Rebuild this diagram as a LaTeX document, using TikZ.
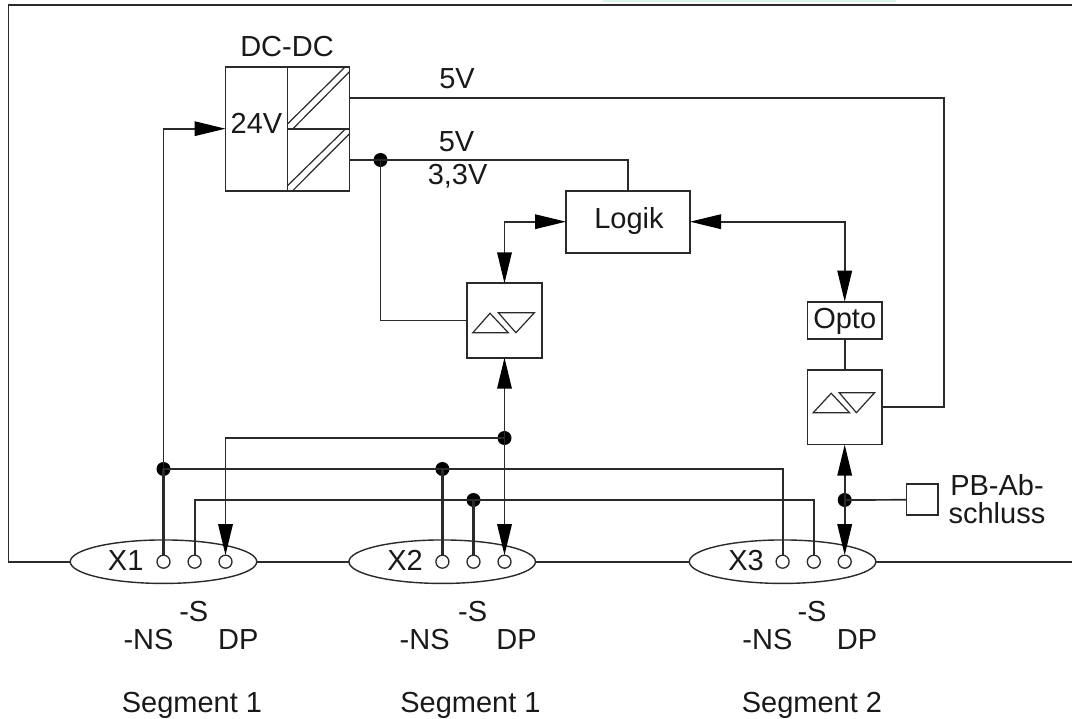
\documentclass[tikz,border=0pt]{standalone}
\usepackage{fontspec}
\setmainfont{Liberation Sans}
\usetikzlibrary{arrows.meta,shapes.geometric,calc}
\definecolor{ink}{HTML}{2A2A2A}
\definecolor{mint}{HTML}{D9F5E8}
\tikzset{
  >={Triangle[length=31pt,width=14.5pt,black]},
  wire/.style={draw=ink,line width=1.7pt},
  bus/.style={draw=ink,line width=2.2pt},
  thin wire/.style={draw=ink,line width=1.2pt},
  boxn/.style={draw=ink,line width=1.7pt,fill=white,rectangle,inner sep=0pt,outer sep=0pt},
  lbl/.style={anchor=base,inner sep=0pt,outer sep=0pt,text=black!90,font=\fontsize{29}{30}\selectfont},
  dotn/.style={circle,fill=black,inner sep=0pt,outer sep=0pt,minimum size=14pt},
  pin/.style={circle,draw=ink,line width=1.3pt,fill=white,inner sep=0pt,outer sep=0pt,minimum size=13pt},
  plug/.style={ellipse,draw=ink,line width=1.4pt,fill=white,inner sep=0pt,outer sep=0pt,minimum width=186.5pt,minimum height=43.5pt},
  tri/.style={draw=ink,line width=1.2pt,line join=miter},
}
\begin{document}
\begin{tikzpicture}[x=1pt,y=-1pt]
\useasboundingbox (0,0) rectangle (1072,719);
\fill[mint] (603,0) rectangle (895.6,2);

% frame and plugs
\coordinate (frameR) at (1072,561.7);
\coordinate (frameTL) at (8.6,5);
\coordinate (frameTR) at (1072,5);
\coordinate (frameBL) at (8.6,561.7);
\draw[wire] (frameTR) -- (frameTL) -- (frameBL) -- (frameR);

\node[plug] (x1) at (163.5,561.7) {};
\node[plug] (x2) at (442.2,561.7) {};
\node[plug] (x3) at (782.6,561.7) {};

\node[pin] (x1a) at (163.5,561.7) {};
\node[pin] (x1b) at (194.6,561.7) {};
\node[pin] (x1c) at (225.5,561.7) {};
\node[pin] (x2a) at (442.4,561.7) {};
\node[pin] (x2b) at (473.5,561.7) {};
\node[pin] (x2c) at (504.5,561.7) {};
\node[pin] (x3a) at (782.6,561.7) {};
\node[pin] (x3b) at (813.8,561.7) {};
\node[pin] (x3c) at (844.7,561.7) {};

% boxes
\node[boxn,minimum width=124pt,minimum height=124pt] (dc) at (287.5,128.7) {};
\node[boxn,minimum width=124pt,minimum height=62pt] (logik) at (628,221.7) {};
\node[boxn,minimum width=75pt,minimum height=74.4pt] (drvA) at (504.5,320.5) {};
\node[boxn,minimum width=74.6pt,minimum height=74.7pt] (drvB) at (844.7,407.3) {};
\node[boxn,minimum width=74.6pt,minimum height=37.6pt] (opto) at (844.7,320.5) {};
\node[boxn,minimum width=31.2pt,minimum height=31pt] (term) at (922.1,499.8) {};

% DC-DC internals
\draw[wire] (dc.north) -- (dc.south);
\draw[wire] (dc.center) -- (dc.east);
\draw[thin wire] (287.5,124) -- (345.4,66.7);
\draw[thin wire] (292.7,129) -- (349.5,71.7);
\draw[thin wire] (287.5,185.7) -- (345.4,129);
\draw[thin wire] (292.7,190.7) -- (349.5,133.7);

% driver triangles
\draw[tri] (472.8,332.7) -- (490,313.3) -- (508.3,332.7) -- cycle;
\draw[tri] (498.3,312.7) -- (534.4,312.7) -- (515.9,332.7) -- cycle;
\draw[tri] (813.2,412.7) -- (831.2,393.3) -- (849.5,412.7) -- cycle;
\draw[tri] (839.2,392.7) -- (874.6,392.7) -- (856.4,412.7) -- cycle;

% junctions
\node[dotn] (jp) at (380.5,160) {};
\node[dotn] (jns) at (163.5,469) {};
\node[dotn] (jns2) at (442.4,469) {};
\node[dotn] (js2) at (473.5,500) {};
\node[dotn] (jdp) at (504.5,438) {};
\node[dotn] (jdp2) at (844.7,500) {};
\coordinate (dcoutA) at (349.5,98.3);
\coordinate (dcoutB) at (349.5,160);
\coordinate (cornA) at (943.8,98.3);
\coordinate (dcin) at (163.5,128.7);
\coordinate (cornB) at (504.5,221.7);
\coordinate (cornC) at (844.7,221.7);

% power
\draw[wire] (dcoutA) -- (cornA) -- (cornA |- drvB.east) -- (drvB.east);
\draw[wire] (dcoutB) -- (jp.center) -| (logik.north);
\draw[wire] (jp.center) |- (drvA.west);
\draw[wire] (drvB.north) -- (opto.south);

% signals with arrowheads
\draw[wire,->] (x1a.north) -- (dcin) -- (dc.west);
\draw[wire,<->] (drvA.north) -- (cornB) -- (logik.west);
\draw[wire,<->] (logik.east) -- (cornC) -- (opto.north);
\draw[wire,<->] (drvA.south) -- (x2c.north);
\draw[wire,<->] (drvB.south) -- (x3c.north);
\draw[wire,->] (jdp.center) -| (x1c.north);

% buses
\draw[bus] (jns.center) -- (x1a.north);
\draw[bus] (jns.center) -| (x3a.north);
\draw[bus] (jns2.center) -- (x2a.north);
\draw[bus] (x1b.north) |- (x3b.north |- js2) -- (x3b.north);
\draw[bus] (js2.center) -- (x2b.north);
\draw[wire] (jdp2.center) -- (term.west);

% labels
\node[lbl] (tdc) at (287,56.7) {DC-DC};
\node[lbl] (t24) at (256.5,133.3) {24V};
\node[lbl] (t5a) at (457,88.3) {5V};
\node[lbl] (t5b) at (456.5,151.7) {5V};
\node[lbl] (t33) at (457.6,185) {3,3V};
\node[lbl] (tlog) at (629,229) {Logik};
\node[lbl] (topt) at (844.7,328.3) {Opto};
\node[lbl,anchor=base west] (tpb) at (950.3,495.7) {PB-Ab-};
\node[lbl,anchor=base west] (tsch) at (948.6,523.3) {schluss};

\node[lbl] (tx1) at (125.7,570) {X1};
\node[lbl] (tx2) at (405,570) {X2};
\node[lbl] (tx3) at (746,570) {X3};

\node[lbl] (s1) at (193.8,621) {-S};
\node[lbl] (ns1) at (148.5,649.3) {-NS};
\node[lbl] (dp1) at (238.3,649.3) {DP};
\node[lbl] (s2) at (472.7,621) {-S};
\node[lbl] (ns2) at (424.7,649.3) {-NS};
\node[lbl] (dp2) at (516.5,649.3) {DP};
\node[lbl] (s3) at (812,621) {-S};
\node[lbl] (ns3) at (767.4,649.3) {-NS};
\node[lbl] (dp3) at (857,649.3) {DP};

\node[lbl] (seg1) at (192,712.7) {Segment 1};
\node[lbl] (seg2) at (470.5,712.7) {Segment 1};
\node[lbl] (seg3) at (812,712.7) {Segment 2};
\end{tikzpicture}
\end{document}
